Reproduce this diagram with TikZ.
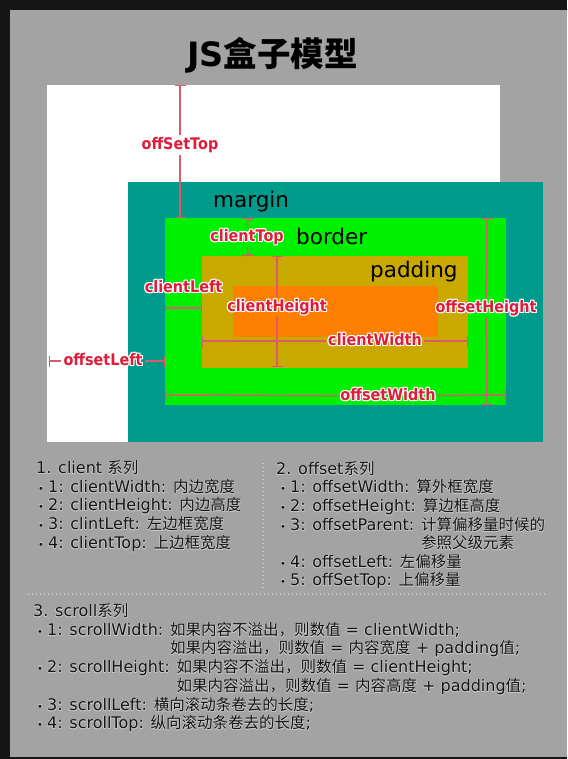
\documentclass[tikz,border=0pt]{standalone}
\usepackage{fontspec}
\setmainfont{DejaVu Sans}
\newfontfamily\cjk{Noto Sans CJK SC}
\newfontfamily\labfont[FakeStretch=0.9]{DejaVu Sans}
\usetikzlibrary{arrows.meta}
\definecolor{frameC}{HTML}{161616}
\definecolor{panelC}{HTML}{A3A3A3}
\definecolor{tealC}{HTML}{009B8B}
\definecolor{greenC}{HTML}{00F000}
\definecolor{goldC}{HTML}{C9A800}
\definecolor{orangeC}{HTML}{FF8000}
\definecolor{lineC}{HTML}{DC5A6C}
\definecolor{labC}{HTML}{DC1E3C}
\definecolor{textC}{HTML}{141414}
\definecolor{haloC}{HTML}{C6C6C6}
\definecolor{dotC}{HTML}{C8C8C8}
\newcommand\halotext[3]{%
  \setbox0=\hbox{#3}%
  \rlap{\color{#1}%
    \rlap{\kern#2\copy0}\rlap{\kern-#2\copy0}%
    \rlap{\raise#2\copy0}\rlap{\lower#2\copy0}%
    \rlap{\kern#2\raise#2\copy0}\rlap{\kern#2\lower#2\copy0}%
    \rlap{\kern-#2\raise#2\copy0}\rlap{\kern-#2\lower#2\copy0}}%
  \box0}
\newcommand\lb[1]{\halotext{white}{1pt}{#1}}
\newcommand\tx[1]{\halotext{haloC}{0.5pt}{#1}}
\newcommand\zh[1]{{\cjk\fontsize{15.5}{16}\selectfont #1}}
\newcommand\bul{\raisebox{0.5pt}{\fontsize{10}{10}\selectfont •}\hspace{4pt}}
\begin{document}
\begin{tikzpicture}[x=1pt,y=-1pt,
  meas/.style={draw=lineC, line width=1.4pt},
  lbl/.style={text=labC, font=\labfont\bfseries\fontsize{16}{16}\selectfont, inner sep=2pt, text height=12pt, text depth=3.5pt},
  boxname/.style={anchor=base west, inner sep=0pt, text=black, font=\fontsize{21.5}{22}\selectfont},
  txt/.style={anchor=base west, inner sep=0pt, text=textC, font=\fontsize{16}{16}\selectfont},
  sep/.style={draw=dotC, line width=1.2pt, dash pattern=on 1.2pt off 2.8pt}]
\useasboundingbox (0,0) rectangle (567,759);
\fill[frameC] (0,0) rectangle (567,759);
\fill[panelC] (10,10) rectangle (567,757);
% boxes
\fill[white] (47,85) rectangle (500,442);
\fill[tealC] (128,182) rectangle (543,442);
\fill[greenC] (165,218) rectangle (506,405);
\fill[goldC] (202,256) rectangle (468,368);
\fill[orangeC] (233,286) rectangle (438,337);
% title
\node[inner sep=0pt, text=black] (title) at (272.5,55) {\fontsize{33.5}{34}\selectfont\bfseries JS{\cjk\bfseries 盒子模型}};
% box names
\node[boxname] (margin) at (213,207.5) {margin};
\node[boxname] (border) at (296,244) {border};
\node[boxname] (padding) at (370,277.5) {padding};
% offSetTop
\coordinate (ot1) at (180,85);
\coordinate (ot2) at (180,218);
\node[lbl] (lot) at (180,145) {\lb{offSetTop}};
\draw[meas,{Bar[width=11pt]}-] (ot1) -- (lot);
\draw[meas,{Bar[width=11pt]}-] (ot2) -- (lot);
% clientTop
\coordinate (ct1) at (248,218);
\coordinate (ct2) at (248,256);
\node[lbl] (lct) at (247,237) {\lb{clientTop}};
\draw[meas,{Bar[width=11pt]}-] (ct1) -- (lct);
\draw[meas,{Bar[width=11pt]}-] (ct2) -- (lct);
% clientHeight
\coordinate (ch1) at (277,256);
\coordinate (ch2) at (277,367);
\node[lbl] (lch) at (277,307) {\lb{clientHeight}};
\draw[meas,{Bar[width=11pt]}-] (ch1) -- (lch);
\draw[meas,{Bar[width=11pt]}-] (ch2) -- (lch);
% clientLeft
\coordinate (cl1) at (165,308);
\coordinate (cl2) at (202,308);
\node[lbl] (lcl) at (183.5,288) {\lb{clientLeft}};
\draw[meas,{Bar[width=11pt]}-{Bar[width=11pt]}] (cl1) -- (cl2);
% clientWidth
\coordinate (cw1) at (202,341);
\coordinate (cw2) at (468,341);
\node[lbl] (lcw) at (375,341) {\lb{clientWidth}};
\draw[meas,{Bar[width=11pt]}-] (cw1) -- (lcw);
\draw[meas,{Bar[width=11pt]}-] (cw2) -- (lcw);
% offsetLeft
\coordinate (ol1) at (49,361);
\coordinate (ol2) at (165,361);
\node[lbl] (lol) at (103,361) {\lb{offsetLeft}};
\draw[meas,{Bar[width=11pt]}-] (ol1) -- (lol);
\draw[meas,{Bar[width=11pt]}-] (ol2) -- (lol);
% offsetWidth
\coordinate (ow1) at (165,395);
\coordinate (ow2) at (506,395);
\node[lbl] (low) at (388,396) {\lb{offsetWidth}};
\draw[meas,{Bar[width=11pt]}-] (ow1) -- (low);
\draw[meas,{Bar[width=11pt]}-] (ow2) -- (low);
% offsetHeight
\coordinate (oh1) at (487,218);
\coordinate (oh2) at (487,405);
\node[lbl] (loh) at (486,308) {\lb{offsetHeight}};
\draw[meas,{Bar[width=11pt]}-] (oh1) -- (loh);
\draw[meas,{Bar[width=11pt]}-] (oh2) -- (loh);
% separators
\coordinate (v1) at (263,463);
\coordinate (v2) at (263,590);
\coordinate (h1) at (28,594);
\coordinate (h2) at (548,594);
\draw[sep] (v1) -- (v2);
\draw[sep] (h1) -- (h2);
% column 1
\node[txt] (c1h) at (36,473.5) {\tx{1. client \zh{系列}}};
\node[txt] (c1a) at (38,492.5) {\tx{\bul 1: clientWidth: \zh{内边宽度}}};
\node[txt] (c1b) at (38,510.5) {\tx{\bul 2: clientHeight: \zh{内边高度}}};
\node[txt] (c1c) at (38,529.5) {\tx{\bul 3: clintLeft: \zh{左边框宽度}}};
\node[txt] (c1d) at (38,548.5) {\tx{\bul 4: clientTop: \zh{上边框宽度}}};
% column 2
\node[txt] (c2h) at (276,474.5) {\tx{2. offset\zh{系列}}};
\node[txt] (c2a) at (280,492.5) {\tx{\bul 1: offsetWidth: \zh{算外框宽度}}};
\node[txt] (c2b) at (280,511.5) {\tx{\bul 2: offsetHeight: \zh{算边框高度}}};
\node[txt] (c2c) at (280,530.5) {\tx{\bul 3: offsetParent: \zh{计算偏移量时候的}}};
\node[txt] (c2d) at (280,548.5) {\tx{\hphantom{\bul 3: offsetParent: }\zh{参照父级元素}}};
\node[txt] (c2e) at (280,567.5) {\tx{\bul 4: offsetLeft: \zh{左偏移量}}};
\node[txt] (c2f) at (280,585.5) {\tx{\bul 5: offSetTop: \zh{上偏移量}}};
% column 3
\node[txt] (c3h) at (33,616.5) {\tx{3. scroll\zh{系列}}};
\node[txt] (c3a) at (37,635.5) {\tx{\bul 1: scrollWidth: \zh{如果内容不溢出，则数值} = clientWidth;}};
\node[txt] (c3b) at (37,653.5) {\tx{\hphantom{\bul 1: scrollWidth: }\zh{如果内容溢出，则数值} = \zh{内容宽度} + padding\zh{值};}};
\node[txt] (c3c) at (37,672.5) {\tx{\bul 2: scrollHeight: \zh{如果内容不溢出，则数值} = clientHeight;}};
\node[txt] (c3d) at (37,691.5) {\tx{\hphantom{\bul 2: scrollHeight: }\zh{如果内容溢出，则数值} = \zh{内容高度} + padding\zh{值};}};
\node[txt] (c3e) at (37,710.5) {\tx{\bul 3: scrollLeft: \zh{横向滚动条卷去的长度};}};
\node[txt] (c3f) at (37,728.5) {\tx{\bul 4: scrollTop: \zh{纵向滚动条卷去的长度};}};
\end{tikzpicture}
\end{document}
